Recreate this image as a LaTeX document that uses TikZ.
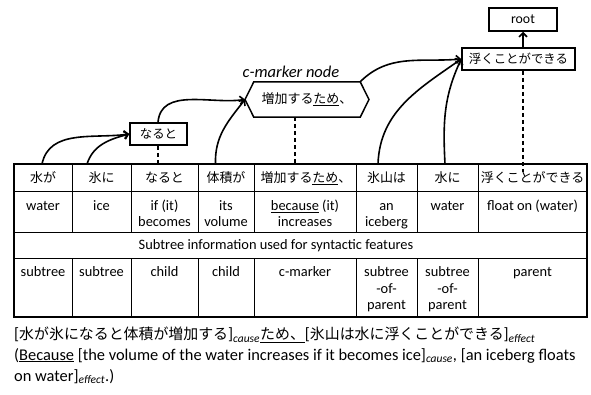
\documentclass[tikz,border=0pt]{standalone}
\usepackage{fontspec}
\setmainfont{Carlito}
\newfontfamily\jpf[Scale=0.9]{Noto Sans CJK JP}
\newfontfamily\jpbf[Scale=0.91]{Noto Sans CJK JP}
\newcommand{\jp}[1]{{\jpf #1}}
\newcommand{\jpb}[1]{{\jpbf #1}}
\usetikzlibrary{arrows.meta,calc}
\begin{document}
\begin{tikzpicture}[x=1pt,y=-1pt,
  every node/.style={inner sep=0pt,font=\fontsize{14.4}{16.5}\selectfont},
  cellA/.style={anchor=base},
  cellB/.style={anchor=north,align=center},
  box/.style={draw,line width=1.5pt,minimum height=22pt,font=\fontsize{13.8}{16}\selectfont},
  arr/.style={line width=1.6pt,-{Straight Barb[length=4pt,width=8pt]}},
  dashln/.style={line width=1.5pt,dash pattern=on 4pt off 3pt},
  inner/.style={line width=0.9pt},
  outer/.style={line width=1.5pt},
  bottom/.style={anchor=base west,font=\fontsize{16.4}{20.5}\selectfont}]
\useasboundingbox (0,0) rectangle (591,394);

% table lines
\draw[inner] (14,191) -- (587,191) (14,232) -- (587,232) (14,258) -- (587,258);
\foreach \x in {72,131,198,254,356,417,478}{
  \draw[inner] (\x,164) -- (\x,232);
  \draw[inner] (\x,258) -- (\x,317);
}
\draw[outer] (14,164) rectangle (587,317);

% row 1
\node[cellA] (c11) at (43,182) {\jp{水が}};
\node[cellA] (c12) at (101.5,182) {\jp{氷に}};
\node[cellA] (c13) at (164.5,182) {\jp{なると}};
\node[cellA] (c14) at (226,182) {\jp{体積が}};
\node[cellA] (c15) at (306,182) {\jp{増加する\underline{ため}、}};
\node[cellA] (c16) at (386.5,182) {\jp{氷山は}};
\node[cellA] (c17) at (447.5,182) {\jp{水に}};
\node[cellA] (c18) at (532.5,182) {\jp{浮くことができる}};
% row 2
\node[cellB] (c21) at (43,198.45) {\strut water};
\node[cellB] (c22) at (101.5,198.45) {\strut ice};
\node[cellB] (c23) at (164.5,198.45) {\strut if (it)\\becomes};
\node[cellB] (c24) at (226,198.45) {\strut its\\volume};
\node[cellB] (c25) at (305,198.45) {\strut\underline{because} (it)\\increases};
\node[cellB] (c26) at (386.5,198.45) {\strut an\\iceberg};
\node[cellB] (c27) at (447.5,198.45) {\strut water};
\node[cellB] (c28) at (532.5,198.45) {\strut float on (water)};
% row 3
\node[cellA] (c3) at (276,249.5) {Subtree information used for syntactic features};
% row 4
\node[cellB] (c41) at (43,264.95) {\strut subtree};
\node[cellB] (c42) at (101.5,264.95) {\strut subtree};
\node[cellB] (c43) at (164.5,264.95) {\strut child};
\node[cellB] (c44) at (226,264.95) {\strut child};
\node[cellB] (c45) at (305,264.95) {\strut c-marker};
\node[cellB] (c46) at (386.5,264.95) {\strut subtree\\-of-\\parent};
\node[cellB] (c47) at (447.5,264.95) {\strut subtree\\-of-\\parent};
\node[cellB] (c48) at (532.5,264.95) {\strut parent};

% tree nodes
\node[box,minimum width=57pt] (nar) at (158.5,134) {\jp{なると}};
\node[minimum width=106pt,minimum height=35pt,font=\fontsize{14.4}{16}\selectfont] (cm) at (307,99.5) {\jp{増加する\underline{ため}、}};
\coordinate (cmL) at (245,99.5);
\coordinate (cmR) at (369,99.5);
\draw[line width=1.5pt] (cm.north west) -- (cm.north east) -- (cmR) -- (cm.south east) -- (cm.south west) -- (cmL) -- cycle;
\node[font=\fontsize{16.5}{18}\selectfont\itshape] (cml) at (291,72) {c-marker node};
\node[box,minimum width=113pt] (fuku) at (518.5,59) {\jp{浮くことができる}};
\node[box,minimum width=68pt,minimum height=23pt] (root) at (523,19.5) {root};

% start points on table top
\coordinate (s1) at (42,164);
\coordinate (s2) at (87,164);
\coordinate (s4) at (215.5,164);
\coordinate (s6) at (378,164);
\coordinate (s7) at (445,164);
\coordinate (d1) at (158,164);
\coordinate (d2) at (295,164);
\coordinate (d3) at (523,172);

% dependency arrows
\draw[arr] (s1) to[out=78,in=188] (nar.west);
\draw[arr] (s2) to[out=72,in=195] (nar.west);
\draw[arr] (nar.north -| d1) to[out=85,in=188] (cmL);
\draw[arr] (s4) to[out=92,in=232] (cmL);
\draw[arr] (cm.north east) to[out=45,in=185] (fuku.west);
\draw[arr] (s6) to[out=88,in=215] (fuku.west);
\draw[arr] (s7) to[out=93,in=245] (fuku.west);
\draw[arr] (root.south |- fuku.north) -- (root.south);

% dashed links
\draw[dashln] (nar.south -| d1) -- (d1);
\draw[dashln] (cm.south -| d2) -- (d2);
\draw[dashln] (fuku.south -| d3) -- (d3);

% bottom text
\node[bottom] (b1) at (14,339.5) {[\jpb{水が氷になると体積が増加する}]\textsubscript{\textit{cause}}\underline{\jpb{ため、}}[\jpb{氷山は水に浮くことができる}]\textsubscript{\textit{effect}}};
\node[bottom] (b2) at (14,360) {(\underline{Because} [the volume of the water increases if it becomes ice]\textsubscript{\textit{cause}}, [an iceberg floats};
\node[bottom] (b3) at (14,381) {on water]\textsubscript{\textit{effect}}.)};
\end{tikzpicture}
\end{document}
